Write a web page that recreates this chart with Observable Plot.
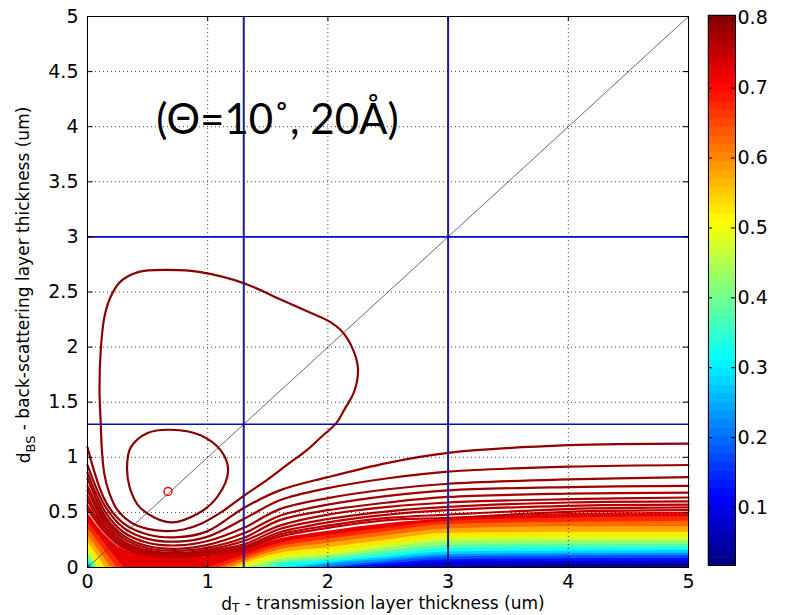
<!DOCTYPE html>
<html>
<head>
<meta charset="utf-8">
<script src="https://cdn.jsdelivr.net/npm/d3@7"></script>
<script src="https://cdn.jsdelivr.net/npm/@observablehq/plot@0.6"></script>
<style>
  html, body { margin: 0; padding: 0; background: #fff; overflow: hidden; }
  #chart { position: relative; width: 786px; height: 615px; }
  #chart > svg { position: absolute; left: 0; top: 0; }
</style>
</head>
<body>
<div id="chart"></div>
<script>
// ---------------- data ----------------
const xTicks = [0, 1, 2, 3, 4, 5];
const yTicks = [0, 0.5, 1, 1.5, 2, 2.5, 3, 3.5, 4, 4.5, 5];
const cbTicks = [0.1, 0.2, 0.3, 0.4, 0.5, 0.6, 0.7, 0.8];
const cbDomain = [0.017, 0.804];
const refX = [1.3, 3];           // vertical reference lines
const refY = [1.3, 3];           // horizontal reference lines
const optimum = [[0.67, 0.69]];  // red circle
const annotation = "(Θ=10˚, 20Å)";
const xTitleMain = "d", xTitleSub = "T", xTitleRest = " - transmission layer thickness (um)";
const yTitleMain = "d", yTitleSub = "BS", yTitleRest = " - back-scattering layer thickness (um)";

// closed contours (level, points)
const outerLoopLevel = 0.795;
const outerLoop = [[0.67,2.70],[0.94,2.68],[1.3,2.58],[1.63,2.42],[1.86,2.31],[2.0,2.24],[2.11,2.15],[2.2,2.0],[2.25,1.81],[2.22,1.6],[2.13,1.42],[2.07,1.31],[1.94,1.18],[1.82,1.06],[1.67,0.94],[1.5,0.8],[1.3,0.65],[1.11,0.5],[0.95,0.40],[0.8,0.345],[0.65,0.33],[0.5,0.35],[0.36,0.41],[0.25,0.52],[0.18,0.68],[0.14,0.85],[0.12,1.06],[0.11,1.31],[0.10,1.61],[0.11,1.97],[0.14,2.27],[0.19,2.45],[0.27,2.59],[0.42,2.68]];
const innerLoopLevel = 0.80;
const innerLoop = [[0.69,1.25],[0.94,1.2],[1.11,1.06],[1.17,0.88],[1.08,0.64],[0.92,0.49],[0.69,0.41],[0.44,0.54],[0.35,0.73],[0.33,0.94],[0.36,1.09],[0.5,1.22]];

// open contour lines crossing the plot (y at lineX)
const lineX = [0, 0.15, 0.3, 0.5, 0.75, 1.0, 1.3, 1.6, 2, 2.5, 3, 4, 5];
const lineLevels = [0.79, 0.786, 0.782, 0.778, 0.774, 0.77, 0.766, 0.762, 0.758, 0.754];
const lineY = [
  [1.09, 0.60, 0.40, 0.30, 0.275, 0.33, 0.54, 0.70, 0.82, 0.95, 1.04, 1.11, 1.125],
  [0.93, 0.55, 0.36, 0.26, 0.235, 0.28, 0.44, 0.61, 0.72, 0.81, 0.87, 0.915, 0.93],
  [0.86, 0.50, 0.32, 0.225, 0.20, 0.24, 0.36, 0.53, 0.63, 0.71, 0.76, 0.80, 0.82],
  [0.81, 0.46, 0.29, 0.195, 0.17, 0.205, 0.31, 0.47, 0.57, 0.65, 0.70, 0.73, 0.74],
  [0.74, 0.43, 0.265, 0.175, 0.15, 0.18, 0.27, 0.43, 0.52, 0.59, 0.64, 0.67, 0.68],
  [0.70, 0.40, 0.24, 0.155, 0.13, 0.16, 0.24, 0.38, 0.48, 0.55, 0.59, 0.62, 0.635],
  [0.65, 0.37, 0.22, 0.14, 0.12, 0.145, 0.21, 0.35, 0.44, 0.51, 0.55, 0.59, 0.60],
  [0.61, 0.35, 0.205, 0.13, 0.11, 0.133, 0.19, 0.32, 0.41, 0.48, 0.52, 0.56, 0.57],
  [0.56, 0.33, 0.19, 0.12, 0.10, 0.122, 0.175, 0.30, 0.38, 0.45, 0.48, 0.53, 0.545],
  [0.53, 0.31, 0.175, 0.11, 0.09, 0.112, 0.16, 0.28, 0.36, 0.43, 0.45, 0.505, 0.52]
];

// filled bands: top boundary (level 0.75) and lower level curves
const fillTopLevel = 0.75;
const fillTop = [[0,0.50],[0.15,0.29],[0.3,0.16],[0.5,0.10],[0.75,0.08],[1.0,0.10],[1.3,0.15],[1.6,0.26],[2,0.33],[2.5,0.40],[3,0.44],[4,0.49],[5,0.50]];
const fillLevels = [0.7, 0.65, 0.6, 0.55, 0.5, 0.45, 0.4, 0.35, 0.3, 0.25, 0.2, 0.15, 0.1, 0.05];
// corner pieces near the origin: [y where level meets x=0, x where level meets y=0]
const fillCorner = [[0.42,0.30],[0.36,0.245],[0.30,0.195],[0.24,0.15],[0.18,0.11],[0.14,0.085],[0.11,0.065],[0.08,0.05],[0.06,0.04],[0.045,0.03],[0.03,0.02],[0.02,0.013],[0.012,0.008],[0.005,0.003]];
// right pieces
const fillRight = [
  [[1.0,0],[1.3,0.11],[1.6,0.22],[2,0.29],[2.5,0.36],[3,0.42],[4,0.45],[5,0.46]],
  [[1.1,0],[1.3,0.08],[1.6,0.19],[2,0.255],[2.5,0.33],[3,0.39],[4,0.41],[5,0.42]],
  [[1.17,0],[1.3,0.055],[1.6,0.16],[2,0.22],[2.5,0.29],[3,0.35],[4,0.37],[5,0.37]],
  [[1.22,0],[1.3,0.035],[1.6,0.13],[2,0.18],[2.5,0.25],[3,0.31],[4,0.32],[5,0.32]],
  [[1.27,0],[1.4,0.04],[1.6,0.10],[2,0.14],[2.5,0.21],[3,0.27],[4,0.28],[5,0.28]],
  [[1.35,0],[1.6,0.07],[2,0.11],[2.5,0.18],[3,0.235],[4,0.245],[5,0.245]],
  [[1.45,0],[1.6,0.05],[2,0.085],[2.5,0.15],[3,0.2],[4,0.21],[5,0.21]],
  [[1.55,0],[1.6,0.03],[2,0.065],[2.5,0.12],[3,0.17],[4,0.18],[5,0.18]],
  [[1.65,0],[2,0.045],[2.5,0.095],[3,0.14],[4,0.15],[5,0.155]],
  [[1.8,0],[2,0.03],[2.5,0.075],[3,0.115],[4,0.125],[5,0.13]],
  [[1.95,0],[2.5,0.055],[3,0.095],[4,0.105],[5,0.11]],
  [[2.1,0],[2.5,0.035],[3,0.07],[4,0.08],[5,0.085]],
  [[2.4,0],[3,0.045],[4,0.055],[5,0.06]],
  [[3.0,0],[3.5,0.015],[4,0.025],[5,0.03]]
];

// ---------------- build tables ----------------
function jet(t) {
  const c = v => Math.round(255 * Math.max(0, Math.min(1, v)));
  return `rgb(${c(1.5 - Math.abs(4*t - 3))},${c(1.5 - Math.abs(4*t - 2))},${c(1.5 - Math.abs(4*t - 1))})`;
}
const colorOpts = {type: "linear", domain: cbDomain, interpolate: jet};
const fmt = d => String(d);
const FONT = "'DejaVu Sans', Verdana, sans-serif";

const fillRows = [];
fillTop.forEach(([x, y]) => fillRows.push({id: "top", v: fillTopLevel - 0.025, x, y}));
const bandRows = [];
fillLevels.forEach((L, i) => {
  const [y0, x0] = fillCorner[i];
  bandRows.push({id: "c" + i, v: L - 0.025, x: 0, y: y0});
  bandRows.push({id: "c" + i, v: L - 0.025, x: x0, y: 0});
  fillRight[i].forEach(([x, y]) => bandRows.push({id: "r" + i, v: L - 0.025, x, y}));
});

const lineRows = [];
lineY.forEach((ys, i) => ys.forEach((y, j) => lineRows.push({id: i, v: lineLevels[i], x: lineX[j], y})));
const outerRows = outerLoop.map(([x, y]) => ({x, y, v: outerLoopLevel}));
const innerRows = innerLoop.map(([x, y]) => ({x, y, v: innerLoopLevel}));

// ---------------- main plot ----------------
const main = Plot.plot({
  width: 786, height: 615,
  marginLeft: 87, marginRight: 98, marginTop: 16, marginBottom: 48,
  style: {fontFamily: FONT, fontSize: "19px", background: "white", color: "black"},
  x: {domain: [0, 5]},
  y: {domain: [0, 5]},
  color: colorOpts,
  marks: [
    Plot.areaY(fillRows, {x: "x", y1: 0, y2: "y", z: "id", fill: "v", curve: "catmull-rom"}),
    Plot.areaY(bandRows, {x: "x", y1: 0, y2: "y", z: "id", fill: "v", curve: "monotone-x"}),
    Plot.line(lineRows, {x: "x", y: "y", z: "id", stroke: "v", strokeWidth: 2.2, curve: "catmull-rom"}),
    Plot.line(outerRows, {x: "x", y: "y", stroke: "v", strokeWidth: 2.2, curve: "catmull-rom-closed"}),
    Plot.line(innerRows, {x: "x", y: "y", stroke: "v", strokeWidth: 2.2, curve: "catmull-rom-closed"}),
    Plot.gridX(xTicks.slice(1, -1), {stroke: "#000", strokeOpacity: 0.75, strokeDasharray: "1,3"}),
    Plot.gridY(yTicks.slice(1, -1), {stroke: "#000", strokeOpacity: 0.75, strokeDasharray: "1,3"}),
    Plot.line([[0, 0], [5, 5]], {stroke: "#444", strokeWidth: 0.8}),
    Plot.ruleX(refX, {stroke: "#1c1c8e", strokeWidth: 2}),
    Plot.ruleY(refY, {stroke: "#0a0ac0", strokeWidth: 1.6}),
    Plot.dot(optimum, {x: d => d[0], y: d => d[1], r: 4, stroke: "#e01010", strokeWidth: 1.5, fill: "none"}),
    Plot.text([annotation], {x: 1.58, y: 4.06, text: d => d, fontSize: 42, fontFamily: "Lato, 'Open Sans', sans-serif", fill: "black"}),
    Plot.ruleX(xTicks, {y1: 0, y2: 0.045, stroke: "black"}),
    Plot.ruleX(xTicks, {y1: 5, y2: 4.955, stroke: "black"}),
    Plot.ruleY(yTicks, {x1: 0, x2: 0.045, stroke: "black"}),
    Plot.ruleY(yTicks, {x1: 5, x2: 4.955, stroke: "black"}),
    Plot.axisX(xTicks, {tickSize: 0, tickPadding: 7, tickFormat: fmt, label: null}),
    Plot.axisY(yTicks, {tickSize: 0, tickPadding: 9, tickFormat: fmt, label: null}),
    Plot.frame({stroke: "black"})
  ]
});

// axis titles with subscripts
const ms = d3.select(main);
const yt = ms.append("text")
  .attr("transform", "translate(30,285) rotate(-90)")
  .attr("text-anchor", "middle")
  .attr("font-family", FONT)
  .attr("font-size", 17).attr("fill", "black");
yt.append("tspan").text(yTitleMain);
yt.append("tspan").attr("font-size", 13).attr("dy", "0.35em").text(yTitleSub);
yt.append("tspan").attr("dy", "-0.35em").text(yTitleRest);

const xt = ms.append("text")
  .attr("x", 383).attr("y", 610)
  .attr("text-anchor", "middle")
  .attr("font-family", FONT)
  .attr("font-size", 17).attr("fill", "black");
xt.append("tspan").text(xTitleMain);
xt.append("tspan").attr("font-size", 12).attr("dy", "0.2em").text(xTitleSub);
xt.append("tspan").attr("dy", "-0.2em").text(xTitleRest);

// ---------------- colorbar ----------------
const nBins = 64;
const bins = d3.range(nBins).map(i => {
  const a = cbDomain[0] + (cbDomain[1] - cbDomain[0]) * i / nBins;
  const b = cbDomain[0] + (cbDomain[1] - cbDomain[0]) * (i + 1) / nBins;
  return {a, b, m: (a + b) / 2};
});
const cbar = Plot.plot({
  width: 786, height: 615,
  marginLeft: 708, marginRight: 51, marginTop: 15, marginBottom: 50,
  style: {fontFamily: FONT, fontSize: "19px", background: "transparent", color: "black", pointerEvents: "none"},
  x: {domain: [0, 1], axis: null},
  y: {domain: cbDomain},
  color: colorOpts,
  marks: [
    Plot.rect(bins, {x1: 0, x2: 1, y1: "a", y2: "b", fill: "m", inset: -0.3}),
    Plot.ruleY(cbTicks, {x1: 0, x2: 0.15, stroke: "black"}),
    Plot.ruleY(cbTicks, {x1: 0.85, x2: 1, stroke: "black"}),
    Plot.axisY(cbTicks, {anchor: "right", tickSize: 0, tickPadding: 2, tickFormat: fmt, label: null}),
    Plot.frame({stroke: "black"})
  ]
});

const chart = document.getElementById("chart");
chart.appendChild(main);
chart.appendChild(cbar);
</script>
</body>
</html>
